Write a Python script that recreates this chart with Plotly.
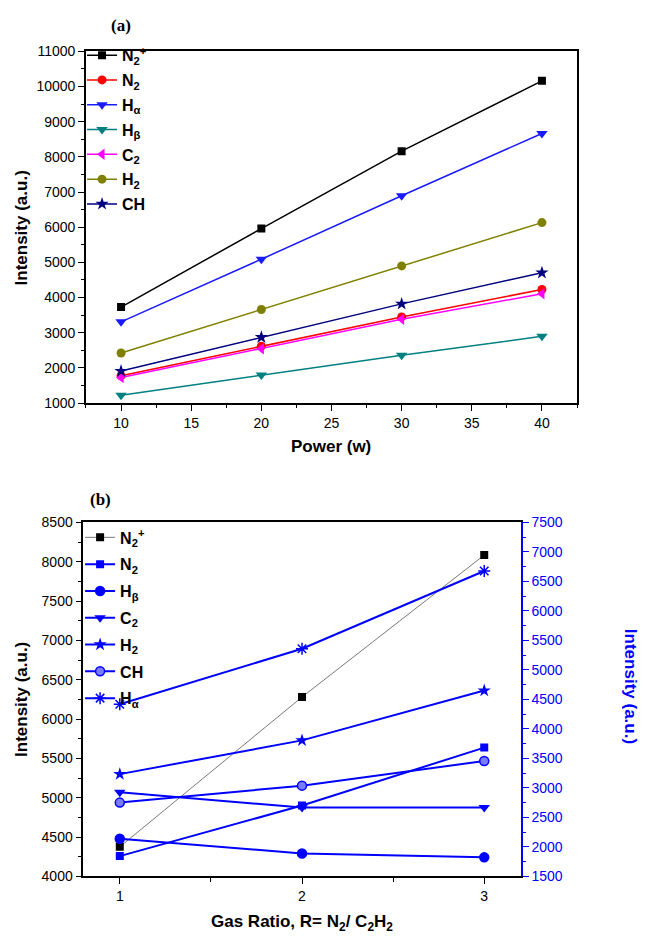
import plotly.graph_objects as go

# ---------------- data: (a) emission intensity vs. RF power ----------------
power = [10, 20, 30, 40]
a_N2p = [3730, 5960, 8160, 10160]
a_N2 = [1780, 2620, 3450, 4230]
a_Ha = [3310, 5090, 6894, 8663]
a_Hb = [1223, 1802, 2360, 2899]
a_C2 = [1726, 2545, 3383, 4109]
a_H2 = [2425, 3662, 4900, 6131]
a_CH = [1912, 2872, 3821, 4706]

# ---------------- data: (b) emission intensity vs. gas ratio ----------------
ratio = [1, 2, 3]
b_N2p = [4375, 6280, 8085]          # left axis
b_N2 = [1843, 2700, 3683]           # right axis (the rest)
b_Hb = [2138, 1888, 1822]
b_C2 = [2927, 2667, 2667]
b_H2 = [3233, 3805, 4650]
b_CH = [2750, 3038, 3455]
b_Ha = [4417, 5360, 6677]

FONT = "Liberation Sans, Arial, sans-serif"
BLUE = "#0000ff"

fig = go.Figure()

# ---- panel (a) ----
a_series = [
    ("<b>N<sub>2</sub><sup>+</sup></b>", a_N2p, "#000000", "square", 8),
    ("<b>N<sub>2</sub></b>", a_N2, "#ff0000", "circle", 9),
    ("<b>H<sub>α</sub></b>", a_Ha, "#1a1aff", "triangle-down", 10),
    ("<b>H<sub>β</sub></b>", a_Hb, "#008080", "triangle-down", 10),
    ("<b>C<sub>2</sub></b>", a_C2, "#ff00ff", "triangle-left", 10),
    ("<b>H<sub>2</sub></b>", a_H2, "#808000", "circle", 9),
    ("<b>CH</b>", a_CH, "#000080", "star", 10),
]
for i, (name, ys, col, sym, sz) in enumerate(a_series):
    fig.add_trace(go.Scatter(
        x=power, y=ys, name=name, mode="lines+markers",
        line=dict(color=col, width=1.5),
        marker=dict(symbol=sym, size=sz, color=col),
        xaxis="x", yaxis="y", legend="legend", legendgroup=f"a{i}",
    ))

# ---- panel (b) ----
fig.add_trace(go.Scatter(
    x=ratio, y=b_N2p, name="<b>N<sub>2</sub><sup>+</sup></b>", mode="lines+markers",
    line=dict(color="#555555", width=0.8),
    marker=dict(symbol="square", size=8, color="#000000"),
    xaxis="x2", yaxis="y2", legend="legend2", legendgroup="b0",
))
b_series = [
    ("<b>N<sub>2</sub></b>", b_N2, "square", 8, BLUE),
    ("<b>H<sub>β</sub></b>", b_Hb, "circle", 9, BLUE),
    ("<b>C<sub>2</sub></b>", b_C2, "triangle-down", 10, BLUE),
    ("<b>H<sub>2</sub></b>", b_H2, "star", 10, BLUE),
    ("<b>CH</b>", b_CH, "circle", 9, "#7a7aff"),
    ("<b>H<sub>α</sub></b>", b_Ha, "asterisk-open", 10, BLUE),
]
for i, (name, ys, sym, sz, fill) in enumerate(b_series, start=1):
    fig.add_trace(go.Scatter(
        x=ratio, y=ys, name=name, mode="lines+markers",
        line=dict(color=BLUE, width=2),
        marker=dict(symbol=sym, size=sz, color=fill,
                    line=dict(color=BLUE, width=1.5 if sym in ("circle", "asterisk-open") else 0)),
        xaxis="x2", yaxis="y3", legend="legend2", legendgroup=f"b{i}",
    ))

tick_font = dict(family=FONT, size=14, color="#000000")
common_axis = dict(
    showline=True, linecolor="#000000", linewidth=1.6, mirror=True,
    ticks="outside", ticklen=6, tickwidth=1.4, tickcolor="#000000",
    showgrid=False, zeroline=False, tickfont=tick_font, tickformat="d",
)

legend_font = dict(family=FONT, size=16, color="#000000")

fig.update_layout(
    width=646, height=946,
    margin=dict(l=0, r=0, t=0, b=0),
    paper_bgcolor="white", plot_bgcolor="white",
    font=dict(family=FONT, color="#000000"),
    xaxis=dict(domain=[0.1331, 0.8932], anchor="y", range=[7.5, 42.5],
               tick0=10, dtick=5,
               minor=dict(ticks="outside", ticklen=3.5, tickwidth=1.2, dtick=2.5, tick0=10, tickcolor="#000000"),
               **common_axis),
    yaxis=dict(domain=[0.5751, 0.9535], anchor="x", range=[1000, 11000],
               dtick=1000,
               minor=dict(ticks="outside", ticklen=3.5, tickwidth=1.2, dtick=500, tickcolor="#000000"),
               **common_axis),
    xaxis2=dict(domain=[0.1290, 0.8060], anchor="y2", range=[0.8, 3.2],
                tick0=1, dtick=1,
                minor=dict(ticks="outside", ticklen=3.5, tickwidth=1.2, dtick=0.5, tick0=1, tickcolor="#000000"),
                **common_axis),
    yaxis2=dict(domain=[0.0663, 0.4468], anchor="x2", range=[4000, 8500],
                dtick=500,
                minor=dict(ticks="outside", ticklen=3.5, tickwidth=1.2, dtick=250, tickcolor="#000000"),
                **{**common_axis, "mirror": False}),
    yaxis3=dict(overlaying="y2", anchor="x2", side="right", range=[1500, 7500],
                dtick=500, showline=True, linecolor=BLUE, linewidth=1.8,
                ticks="outside", ticklen=6, tickwidth=1.4, tickcolor=BLUE, tickformat="d",
                minor=dict(ticks="outside", ticklen=3.5, tickwidth=1.2, dtick=250, tickcolor=BLUE),
                showgrid=False, zeroline=False,
                tickfont=dict(family=FONT, size=14, color=BLUE)),
    legend=dict(x=0.127, y=0.9675, xanchor="left", yanchor="top",
                bgcolor="rgba(0,0,0,0)", borderwidth=0, tracegroupgap=1,
                font=legend_font),
    legend2=dict(x=0.124, y=0.449, xanchor="left", yanchor="top",
                 bgcolor="rgba(0,0,0,0)", borderwidth=0, tracegroupgap=3,
                 font=legend_font),
    showlegend=True,
)

title_font = dict(family=FONT, size=17, color="#000000")
annotations = [
    dict(text="<b>(a)</b>", x=0.187, y=0.981, font=dict(family="Liberation Serif, Times New Roman, serif", size=17)),
    dict(text="<b>Power (w)</b>", x=0.5131, y=0.5285, font=title_font),
    dict(text="<b>Intensity (a.u.)</b>", x=0.034, y=0.764, textangle=-90, font=title_font),
    dict(text="<b>(b)</b>", x=0.155, y=0.4715, font=dict(family="Liberation Serif, Times New Roman, serif", size=17)),
    dict(text="<b>Intensity (a.u.)</b>", x=0.034, y=0.257, textangle=-90, font=title_font),
    dict(text="<b>Intensity (a.u.)</b>", x=0.976, y=0.2706, textangle=90,
         font=dict(family=FONT, size=17, color=BLUE)),
    dict(text="<b>Gas Ratio, R= N<sub>2</sub>/ C<sub>2</sub>H<sub>2</sub></b>", x=0.467, y=0.0159, font=title_font),
]
for ann in annotations:
    ann.update(xref="paper", yref="paper", showarrow=False, xanchor="center", yanchor="middle")
fig.update_layout(annotations=annotations)

fig.write_html("out.html")
